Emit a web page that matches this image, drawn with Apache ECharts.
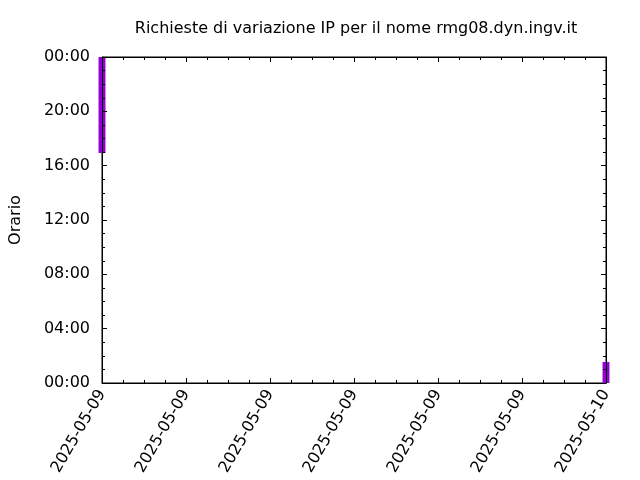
<!DOCTYPE html>
<html>
<head>
<meta charset="utf-8">
<script src="https://cdn.jsdelivr.net/npm/echarts@6/dist/echarts.min.js"></script>
<style>html,body{margin:0;padding:0;background:#fff}#c{width:640px;height:480px}</style>
</head>
<body>
<div id="c"></div>
<script>
// x: hours since 2025-05-09 00:00; y: time of day in hours [start, end]
var eventX = [0, 24];
var eventStart = [16.93, 0];
var eventEnd = [24, 1.55];
var xTickLabels = ['2025-05-09','2025-05-09','2025-05-09','2025-05-09','2025-05-09','2025-05-09','2025-05-10'];
var yTickLabels = ['00:00','04:00','08:00','12:00','16:00','20:00','00:00'];
var boxWidthHours = 0.33;

var data = eventX.map(function(x, i){ return [x, eventStart[i], eventEnd[i]]; });

var chart = echarts.init(document.getElementById('c'), null, {renderer:'canvas'});
var font = 'DejaVu Sans';
function ticks(){
  return {
    z:5,
    axisLine:{show:true, onZero:false, lineStyle:{color:'#000', width:1}},
    axisTick:{show:true, inside:true, length:5, lineStyle:{color:'#000'}},
    minorTick:{show:true, splitNumber:4, length:3, lineStyle:{color:'#000'}},
    splitLine:{show:false}
  };
}
chart.setOption({
  animation:false,
  backgroundColor:'#fff',
  title:{text:'Richieste di variazione IP per il nome rmg08.dyn.ingv.it', left:351, textAlign:'center', top:16,
    textStyle:{fontFamily:font, fontSize:16, fontWeight:'normal', color:'#000'}},
  grid:{left:102, right:34, top:57, bottom:97, show:true, borderColor:'#000', borderWidth:1},
  xAxis:[
    Object.assign({type:'value', min:0, max:24, interval:4, position:'bottom',
      axisLabel:{rotate:60, fontFamily:font, fontSize:16, color:'#000', margin:8,
        formatter:function(v){ return xTickLabels[Math.round(v/4)]; }}}, ticks()),
    Object.assign({type:'value', min:0, max:24, interval:4, position:'top', axisLabel:{show:false}}, ticks())
  ],
  yAxis:[
    Object.assign({type:'value', min:0, max:24, interval:4, position:'left',
      name:'Orario', nameLocation:'middle', nameGap:78, nameRotate:90,
      nameTextStyle:{fontFamily:font, fontSize:16, color:'#000'},
      axisLabel:{fontFamily:font, fontSize:16, color:'#000', margin:12,
        formatter:function(v){ return yTickLabels[Math.round(v/4)]; }}}, ticks()),
    Object.assign({type:'value', min:0, max:24, interval:4, position:'right', axisLabel:{show:false}}, ticks())
  ],
  series:[{
    type:'custom',
    clip:false,
    z:1,
    xAxisIndex:0, yAxisIndex:0,
    data:data,
    encode:{x:0, y:[1,2]},
    renderItem:function(params, api){
      var x = api.value(0);
      var p0 = api.coord([x - boxWidthHours/2, api.value(2)]);
      var p1 = api.coord([x + boxWidthHours/2, api.value(1)]);
      return {type:'rect', shape:{x:p0[0], y:p0[1], width:p1[0]-p0[0], height:p1[1]-p0[1]},
        style:{fill:'#9400d3', stroke:null}};
    }
  }]
});
</script>
</body>
</html>
